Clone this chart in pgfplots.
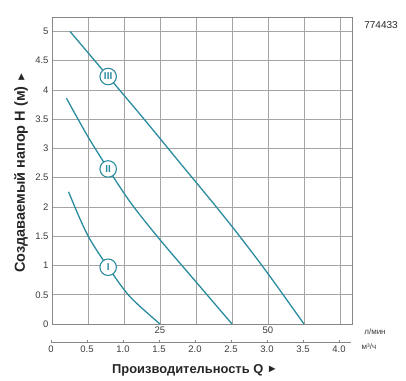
\documentclass[border=0pt]{standalone}
\usepackage{pgfplots}
\pgfplotsset{compat=1.18}
\usepackage{fontspec}
\setmainfont{Liberation Sans}
\definecolor{curve}{RGB}{42,140,158}
\definecolor{gridc}{RGB}{165,165,165}
\definecolor{framec}{RGB}{135,135,135}
\definecolor{txt}{RGB}{60,60,60}
\newcommand{\tri}{{\fontsize{11}{11}\selectfont\raisebox{0.3pt}{►}}}
\begin{document}
\begin{tikzpicture}
\begin{axis}[
  at={(52pt,56pt)}, anchor=south west, scale only axis,
  width=300pt, height=306pt,
  xmin=0, xmax=4.1667, ymin=0, ymax=5.23,
  xtick={0.5,1,...,4}, xticklabels={,,25,,,50,,},
  ytick={0,0.5,...,5}, yticklabels={0,0.5,1,1.5,2,2.5,3,3.5,4,4.5,5},
  grid=major, major tick length=0,
  axis line style={framec, line width=1pt},
  grid style={gridc, line width=0.9pt},
  tick label style={font=\fontsize{9.5}{11}\selectfont, text=txt},
  /pgf/number format/assume math mode=true,
  xticklabel style={yshift=1pt},
  clip=false,
]
\addplot[curve, line width=1.3pt, smooth] coordinates {
  (0.25,5.0) (0.78,4.23) (1.3,3.47) (1.78,2.75) (2.25,2.05) (2.6,1.51) (3.0,0.86) (3.5,0)};
\addplot[curve, line width=1.3pt, smooth] coordinates {
  (0.20,3.86) (0.5,3.2) (0.78,2.65) (1.1,2.06) (1.5,1.44) (2.0,0.72) (2.5,0)};
\addplot[curve, line width=1.3pt, smooth] coordinates {
  (0.23,2.26) (0.38,1.82) (0.53,1.44) (0.78,0.97) (1.08,0.47) (1.5,0)};
\node[circle, draw=curve, fill=white, line width=1.1pt, minimum size=16.5pt, inner sep=0pt, text=curve, font=\fontsize{10}{10}\selectfont\bfseries] at (axis cs:0.78,4.23) {III};
\node[circle, draw=curve, fill=white, line width=1.1pt, minimum size=16.5pt, inner sep=0pt, text=curve, font=\fontsize{10}{10}\selectfont\bfseries] at (axis cs:0.78,2.65) {II};
\node[circle, draw=curve, fill=white, line width=1.1pt, minimum size=16.5pt, inner sep=0pt, text=curve, font=\fontsize{10}{10}\selectfont\bfseries] at (axis cs:0.78,0.97) {I};
\end{axis}
\begin{axis}[
  at={(51pt,37.3pt)}, anchor=south west, scale only axis,
  width=300pt, height=10pt,
  xmin=0, xmax=4.1667, ymin=0, ymax=1,
  axis x line=bottom, axis y line=none,
  x axis line style={-, framec, line width=1pt},
  xtick={0,0.5,...,4}, xticklabels={0,0.5,1.0,1.5,2.0,2.5,3.0,3.5,4.0},
  tick align=inside, major tick length=3pt,
  tick style={framec, line width=0.8pt},
  tick label style={font=\fontsize{9.5}{11}\selectfont, text=txt},
  /pgf/number format/assume math mode=true,
]
\addplot[draw=none] coordinates {(0,0)};
\end{axis}
\pgfresetboundingbox
\path[use as bounding box] (0pt,0pt) rectangle (406pt,380pt);
\node[font=\fontsize{12.9}{14}\selectfont\bfseries, text=black!85, anchor=west, inner sep=0pt] at (112pt,10pt) {Производительность Q \tri};
\node[font=\fontsize{14.5}{16}\selectfont\bfseries, text=black!85, rotate=90, anchor=west, inner sep=0pt] at (21pt,107pt) {Создаваемый напор H (м) \tri};
\node[font=\fontsize{10}{11}\selectfont, text=black!85] at (381pt,355pt) {774433};
\node[font=\fontsize{8}{9}\selectfont, text=txt] at (375pt,48pt) {л/мин};
\node[font=\fontsize{8}{9}\selectfont, text=txt] at (369pt,33pt) {м³/ч};
\end{tikzpicture}
\end{document}
